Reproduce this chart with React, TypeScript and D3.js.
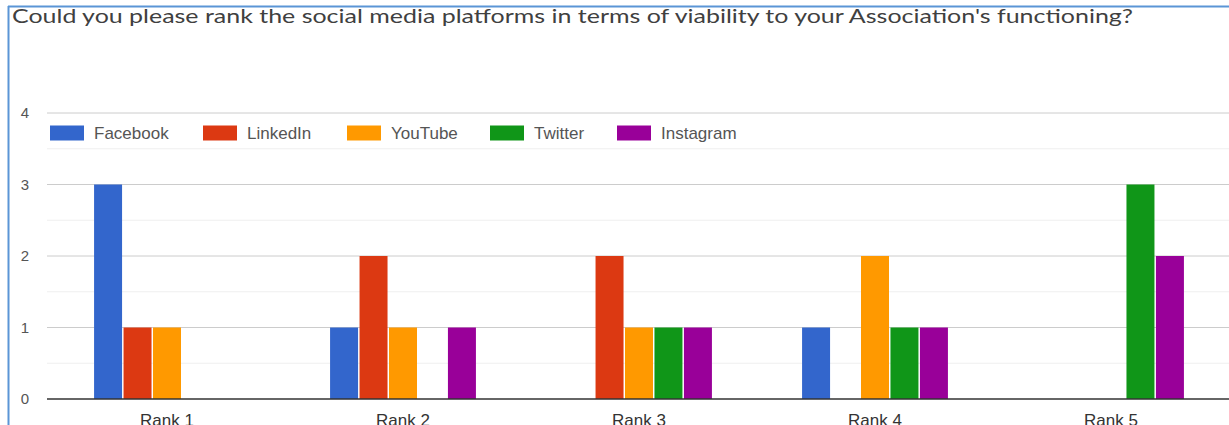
import React from "react";
import * as d3 from "d3";

const title =
  "Could you please rank the social media platforms in terms of viability to your Association's functioning?";
const categories = ["Rank 1", "Rank 2", "Rank 3", "Rank 4", "Rank 5"];
const seriesNames = ["Facebook", "LinkedIn", "YouTube", "Twitter", "Instagram"];
const seriesColors = ["#3366cc", "#dc3912", "#ff9900", "#109618", "#990099"];
const facebook = [3, 1, 0, 1, 0];
const linkedin = [1, 2, 2, 0, 0];
const youtube = [1, 1, 1, 2, 0];
const twitter = [0, 0, 1, 1, 3];
const instagram = [0, 1, 1, 1, 2];
const yTicks = [0, 1, 2, 3, 4];
const yMinorTicks = [0.5, 1.5, 2.5, 3.5];
const seriesValues = [facebook, linkedin, youtube, twitter, instagram];

const W = 1229;
const H = 425;

export default function App() {
  const x = d3
    .scaleBand<string>()
    .domain(categories)
    .range([49, 1229])
    .paddingInner(0.382)
    .paddingOuter(0.191);
  const xi = d3
    .scaleBand<string>()
    .domain(seriesNames)
    .range([0, x.bandwidth()])
    .paddingInner(0.05);
  const y = d3.scaleLinear().domain([0, 4]).range([399, 113]);

  const legendX = [50, 203, 347, 490, 617];

  return (
    <svg
      width={W}
      height={H}
      style={{ position: "fixed", left: 0, top: 0, background: "#fff" }}
      fontFamily="'Liberation Sans', Arial, sans-serif"
    >
      <rect x={0} y={0} width={W} height={H} fill="#fff" />
      {/* border */}
      <line x1={8} x2={W} y1={6.5} y2={6.5} stroke="#5b95d6" strokeWidth={2} />
      <line x1={8.5} x2={8.5} y1={6} y2={H} stroke="#5b95d6" strokeWidth={2} />
      <text
        x={12}
        y={23}
        fontSize={19}
        fill="#404040"
        fontFamily="Lato, 'Open Sans', sans-serif"
        textLength={1121}
        lengthAdjust="spacingAndGlyphs"
      >
        {title}
      </text>
      {/* minor gridlines */}
      {yMinorTicks.map((t) => (
        <line key={"m" + t} x1={47} x2={W} y1={y(t)} y2={y(t)} stroke="#efefef" strokeWidth={1} />
      ))}
      {yTicks.map((t) =>
        t === 0 ? null : (
          <line key={"g" + t} x1={47} x2={W} y1={y(t)} y2={y(t)} stroke="#cccccc" strokeWidth={1} />
        )
      )}
      {yTicks.map((t) => (
        <text key={"yl" + t} x={29} y={y(t) + 5} fontSize={15} fill="#555" textAnchor="end">
          {t}
        </text>
      ))}
      {/* bars */}
      {categories.map((c, ci) => (
        <g key={c} transform={`translate(${x(c)},0)`}>
          {seriesNames.map((s, si) => {
            const v = seriesValues[si][ci];
            if (!v) return null;
            return (
              <rect
                key={s}
                x={xi(s)}
                y={y(v)}
                width={xi.bandwidth()}
                height={y(0) - y(v)}
                fill={seriesColors[si]}
              />
            );
          })}
        </g>
      ))}
      <line x1={47} x2={W} y1={y(0)} y2={y(0)} stroke="#333" strokeWidth={1.5} />
      {categories.map((c) => (
        <text
          key={"xl" + c}
          x={(x(c) as number) + x.bandwidth() / 2}
          y={426}
          fontSize={17}
          fill="#333"
          textAnchor="middle"
        >
          {c}
        </text>
      ))}
      {/* legend */}
      {seriesNames.map((s, si) => (
        <g key={"lg" + s}>
          <rect x={legendX[si]} y={125.5} width={34} height={15} fill={seriesColors[si]} />
          <text x={legendX[si] + 44} y={139} fontSize={17} fill="#555">
            {s}
          </text>
        </g>
      ))}
    </svg>
  );
}
